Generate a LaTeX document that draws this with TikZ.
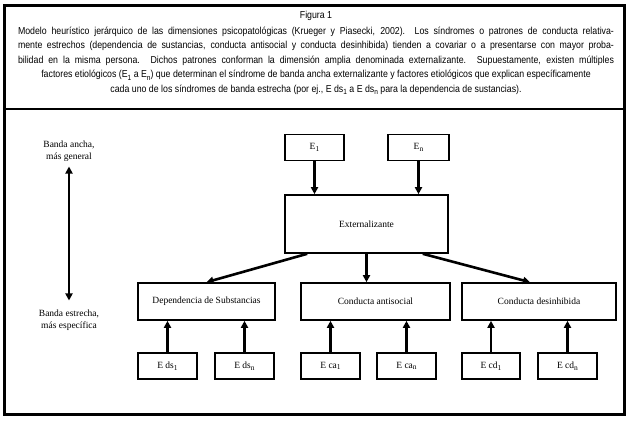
\documentclass[tikz,border=0pt]{standalone}
\usepackage{fontspec}
\setmainfont{Liberation Serif}
\newfontfamily\capfont[FakeStretch=0.87]{Liberation Sans}
\usetikzlibrary{arrows.meta}

\newcommand{\lowidx}[1]{\raisebox{-0.4ex}{\fontsize{7.5}{7.5}\selectfont #1}}
\newcommand{\capsize}{\capfont\fontsize{10.1}{14.6}\selectfont\baselineskip=14.6pt}

\tikzset{
  caja/.style={draw,line width=1.6pt,minimum width=59pt,minimum height=26pt,inner sep=0pt,
    font=\fontsize{9.5}{11}\selectfont},
  flecha/.style={line width=2.6pt,-{Triangle[length=7pt,width=7pt]}},
  doble/.style={line width=2.6pt,{Triangle[length=7pt,width=7pt]}-{Triangle[length=7pt,width=7pt]}},
  etiq/.style={align=center,inner sep=0pt,font=\fontsize{9.5}{12}\selectfont}
}

\begin{document}
\begin{tikzpicture}[x=1pt,y=-1pt]
\useasboundingbox (0,0) rectangle (632,422);

% marco
\draw[line width=3pt] (4.5,5.5) rectangle (624.5,414.5);
\draw[line width=2pt] (4.5,109) -- (624.5,109);

% leyenda
\begin{scope}[every node/.style={inner sep=0pt,font=\capsize}]
  \node (fig) at (316,16) {Figura 1};
  \node[text width=596pt,align=justify,anchor=north] (ley) at (316,26.5)
  {\capsize\parskip=0pt
  {\parfillskip=0pt Modelo heurístico jerárquico de las dimensiones psicopatológicas (Krueger y Piasecki, 2002).\ \ Los síndromes o patrones de conducta relativa-\linebreak
  mente estrechos (dependencia de sustancias, conducta antisocial y conducta desinhibida) tienden a covariar o a presentarse con mayor proba-\linebreak
  bilidad en la misma persona. Dichos patrones conforman la dimensión amplia denominada externalizante. Supuestamente, existen múltiples\par}
  {\centering factores etiológicos (E\lowidx{1} a E\lowidx{n}) que determinan el síndrome de banda ancha externalizante y factores etiológicos que explican específicamente\\
  cada uno de los síndromes de banda estrecha (por ej., E ds\lowidx{1} a E ds\lowidx{n} para la dependencia de sustancias).\par}};
\end{scope}

% eje de amplitud
\node[etiq] (ancha) at (69,151) {Banda ancha,\\más general};
\node[etiq] (estrecha) at (69,320) {Banda estrecha,\\más específica};
\draw[doble] ([yshift=-5pt]ancha.south) -- ([yshift=9pt]estrecha.north);

% factores generales
\node[caja] (E1) at (314.5,147.5) {E\lowidx{1}};
\node[caja,minimum width=61pt] (En) at (418.5,147.5) {E\lowidx{n}};
\node[caja,minimum width=163pt,minimum height=58pt] (ext) at (366.5,224) {Externalizante};

% sindromes de banda estrecha
\node[caja,minimum width=137pt,minimum height=37pt] (dep) at (206.5,301.5) {Dependencia de Substancias};
\node[caja,minimum width=149pt,minimum height=37pt] (anti) at (375.5,301.5) {Conducta antisocial};
\node[caja,minimum width=154pt,minimum height=37pt] (desin) at (539,301.5) {Conducta desinhibida};

% factores especificos
\node[caja] (ds1) at (167.5,366) {E ds\lowidx{1}};
\node[caja] (dsn) at (244.5,366) {E ds\lowidx{n}};
\node[caja] (ca1) at (330.5,366) {E ca\lowidx{1}};
\node[caja] (can) at (406.5,366) {E ca\lowidx{n}};
\node[caja,minimum width=58pt] (cd1) at (491,366) {E cd\lowidx{1}};
\node[caja] (cdn) at (567.5,366) {E cd\lowidx{n}};

% flechas
\draw[flecha] (E1.south) -- (E1.south |- ext.north);
\draw[flecha] (En.south) -- (En.south |- ext.north);
\draw[flecha] ([xshift=23pt]ext.south west) -- (dep.north);
\draw[flecha] (ext.south) -- (ext.south |- anti.north);
\draw[flecha] ([xshift=-26pt]ext.south east) -- ([xshift=-9pt]desin.north);
\foreach \e/\m in {ds1/dep,dsn/dep,ca1/anti,can/anti,cd1/desin,cdn/desin}
  \draw[flecha] (\e.north) -- (\e.north |- \m.south);
\end{tikzpicture}
\end{document}
